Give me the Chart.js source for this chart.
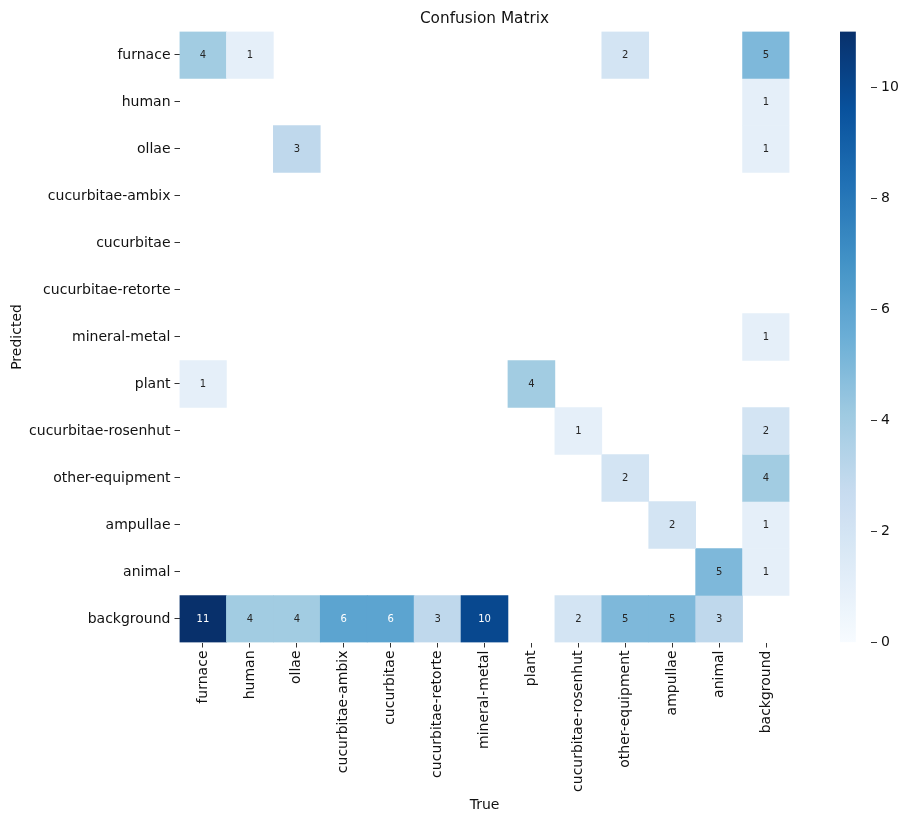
<!DOCTYPE html>
<html>
<head>
<meta charset="utf-8">
<script src="https://cdn.jsdelivr.net/npm/chart.js@4"></script>
<style>
  body { margin: 0; background: #fff; }
  #wrap { position: relative; width: 901px; height: 814px; }
  #matrix { position: absolute; left: 0; top: 0; }
  #colorbar { position: absolute; left: 840px; top: 0; }
</style>
</head>
<body>
<div id="wrap">
  <canvas id="matrix" width="901" height="814"></canvas>
  <canvas id="colorbar" width="61" height="814"></canvas>
</div>
<script>
const predictedLabels = ['furnace', 'human', 'ollae', 'cucurbitae-ambix', 'cucurbitae', 'cucurbitae-retorte',
    'mineral-metal', 'plant', 'cucurbitae-rosenhut', 'other-equipment', 'ampullae', 'animal', 'background'];
const trueLabels = predictedLabels.slice();

// rows = predicted, columns = true
const counts = [
    [4, 1, 0, 0, 0, 0, 0, 0, 0, 2, 0, 0, 5],
    [0, 0, 0, 0, 0, 0, 0, 0, 0, 0, 0, 0, 1],
    [0, 0, 3, 0, 0, 0, 0, 0, 0, 0, 0, 0, 1],
    [0, 0, 0, 0, 0, 0, 0, 0, 0, 0, 0, 0, 0],
    [0, 0, 0, 0, 0, 0, 0, 0, 0, 0, 0, 0, 0],
    [0, 0, 0, 0, 0, 0, 0, 0, 0, 0, 0, 0, 0],
    [0, 0, 0, 0, 0, 0, 0, 0, 0, 0, 0, 0, 1],
    [1, 0, 0, 0, 0, 0, 0, 4, 0, 0, 0, 0, 0],
    [0, 0, 0, 0, 0, 0, 0, 0, 1, 0, 0, 0, 2],
    [0, 0, 0, 0, 0, 0, 0, 0, 0, 2, 0, 0, 4],
    [0, 0, 0, 0, 0, 0, 0, 0, 0, 0, 2, 0, 1],
    [0, 0, 0, 0, 0, 0, 0, 0, 0, 0, 0, 5, 1],
    [11, 4, 4, 6, 6, 3, 10, 0, 2, 5, 5, 3, 0]
];
const colorbarTicks = [0, 2, 4, 6, 8, 10];
const vmax = 11;

// matplotlib "Blues"
const blues = ['#f7fbff', '#deebf7', '#c6dbef', '#9ecae1', '#6baed6', '#4292c6', '#2171b5', '#08519c', '#08306b'];

function hexToRgb(h) {
    return [parseInt(h.slice(1, 3), 16), parseInt(h.slice(3, 5), 16), parseInt(h.slice(5, 7), 16)];
}

function bluesRgb(t) {
    t = Math.max(0, Math.min(1, t));
    const pos = t * (blues.length - 1);
    const i = Math.min(Math.floor(pos), blues.length - 2);
    const f = pos - i;
    const a = hexToRgb(blues[i]), b = hexToRgb(blues[i + 1]);
    return a.map((c, k) => c + (b[k] - c) * f);
}

function cellColor(v) {
    const c = bluesRgb(v / vmax);
    return 'rgb(' + c.map(Math.round).join(',') + ')';
}

// same rule seaborn uses for annotation text
function textColor(v) {
    const lum = bluesRgb(v / vmax).map(c => {
        c = c / 255;
        return c <= 0.03928 ? c / 12.92 : Math.pow((c + 0.055) / 1.055, 2.4);
    });
    const L = 0.2126 * lum[0] + 0.7152 * lum[1] + 0.0722 * lum[2];
    return L > 0.408 ? '#262626' : '#ffffff';
}

Chart.defaults.font.family = '"DejaVu Sans", sans-serif';
Chart.defaults.font.size = 14;
Chart.defaults.color = '#222';

const datasets = counts.map((row, r) => ({
    label: predictedLabels[r],
    data: row.map(v => v > 0 ? [r, r + 1] : null),
    backgroundColor: row.map(v => cellColor(v)),
    borderWidth: 0,
    barPercentage: 1,
    categoryPercentage: 1,
    grouped: false
}));

const annotate = {
    id: 'annotate',
    afterDatasetsDraw(chart) {
        const ctx = chart.ctx;
        ctx.save();
        ctx.font = '10px "DejaVu Sans", sans-serif';
        ctx.textAlign = 'center';
        ctx.textBaseline = 'middle';
        counts.forEach((row, r) => {
            const meta = chart.getDatasetMeta(r);
            meta.data.forEach((bar, c) => {
                const v = row[c];
                if (!v) return;
                ctx.fillStyle = textColor(v);
                ctx.fillText(String(v), bar.x, (bar.y + bar.base) / 2);
            });
        });
        ctx.restore();
    }
};

new Chart(document.getElementById('matrix'), {
    type: 'bar',
    data: { labels: trueLabels, datasets: datasets },
    plugins: [annotate],
    options: {
        responsive: false,
        animation: false,
        devicePixelRatio: 1,
        layout: { padding: { left: 0, right: 111.5, top: 0, bottom: 0 } },
        plugins: {
            legend: { display: false },
            tooltip: { enabled: false },
            title: {
                display: true,
                text: 'Confusion Matrix',
                fullSize: false,
                color: '#111',
                font: { size: 15.3, weight: 'normal' },
                padding: { top: 9.8, bottom: 3.3 }
            }
        },
        scales: {
            x: {
                type: 'category',
                offset: true,
                grid: { offset: false, drawOnChartArea: false, tickLength: 5, tickColor: '#333' },
                border: { display: false },
                ticks: { minRotation: 90, maxRotation: 90, autoSkip: false, padding: 3, color: '#111' },
                title: { display: true, text: 'True', color: '#111', padding: { top: 4, bottom: 0 } },
                afterFit(scale) { scale.height = 171.5; }
            },
            y: {
                type: 'linear',
                min: 0,
                max: predictedLabels.length,
                reverse: true,
                grid: { drawOnChartArea: false, tickLength: 5, tickColor: '#333' },
                border: { display: false },
                afterBuildTicks(scale) {
                    scale.ticks = predictedLabels.map((_, i) => ({ value: i + 0.5 }));
                },
                ticks: {
                    autoSkip: false,
                    padding: 4,
                    color: '#111',
                    callback: v => predictedLabels[Math.floor(v)]
                },
                title: { display: true, text: 'Predicted', color: '#111', padding: { top: 8.6, bottom: 4 } },
                afterFit(scale) { scale.width = 179.5; }
            }
        }
    }
});

// colour bar
new Chart(document.getElementById('colorbar'), {
    type: 'bar',
    data: {
        labels: [''],
        datasets: [{
            data: [[0, vmax]],
            barPercentage: 1,
            categoryPercentage: 1,
            borderWidth: 0,
            backgroundColor(ctx) {
                const area = ctx.chart.chartArea;
                if (!area) return blues[4];
                const g = ctx.chart.ctx.createLinearGradient(0, area.bottom, 0, area.top);
                for (let i = 0; i <= 40; i++) {
                    const c = bluesRgb(i / 40);
                    g.addColorStop(i / 40, 'rgb(' + c.map(Math.round).join(',') + ')');
                }
                return g;
            }
        }]
    },
    options: {
        responsive: false,
        animation: false,
        devicePixelRatio: 1,
        layout: { padding: { left: 0, right: 0, top: 31.5, bottom: 171.5 } },
        plugins: { legend: { display: false }, tooltip: { enabled: false } },
        scales: {
            x: { display: false, offset: false },
            y: {
                position: 'right',
                min: 0,
                max: vmax,
                grid: { drawOnChartArea: false, tickLength: 6, tickColor: '#333' },
                border: { display: false },
                afterBuildTicks(scale) {
                    scale.ticks = colorbarTicks.map(v => ({ value: v }));
                },
                ticks: { padding: 4, color: '#111' },
                afterFit(scale) { scale.width = 30; }
            }
        }
    }
});
</script>
</body>
</html>
